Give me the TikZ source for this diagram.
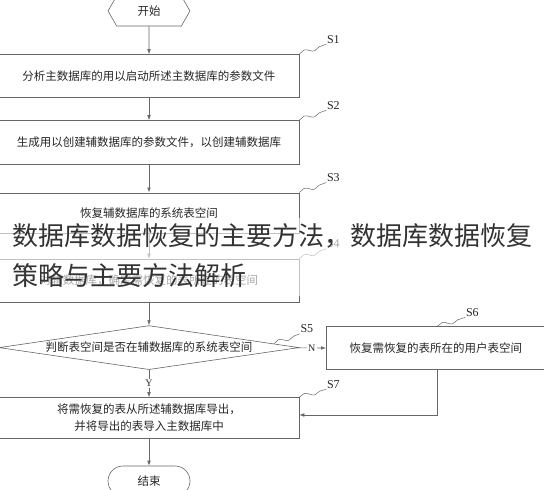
\documentclass[tikz,border=0pt]{standalone}
\usepackage{fontspec}
\setmainfont{Liberation Serif}
\newfontfamily\cjk{Noto Sans CJK SC}
\usetikzlibrary{arrows.meta,calc,shapes.geometric,shapes.symbols,decorations.pathmorphing}

\tikzset{box/.style={draw=black!60, line width=0.6pt, rectangle, minimum width=300pt, minimum height=43pt, inner sep=0pt, align=center, text=black!85, font=\cjk\fontsize{11.5}{17}\selectfont}}

\begin{document}
\begin{tikzpicture}[x=1pt,y=-1pt]
\tikzstyle{arr}=[draw=black!60, line width=0.6pt, -{Latex[length=5pt,width=3.6pt]}]
\tikzstyle{wave}=[draw=black!60, line width=0.5pt, decorate, decoration={snake, segment length=19pt, amplitude=2.2pt}]
\tikzstyle{slbl}=[anchor=south west, inner sep=0.5pt, text=black!85, font=\fontsize{12}{13}\selectfont]
\tikzstyle{yn}=[fill=white, inner sep=1.5pt, text=black!85, font=\fontsize{10}{12}\selectfont]
\tikzstyle{title}=[anchor=west, inner sep=0pt, text=black!80, font=\cjk\fontsize{26}{30}\selectfont]
\useasboundingbox (0,0) rectangle (544,490);
\node[box, signal, signal to=west and east, signal pointer angle=120, minimum width=82pt, minimum height=30pt] (start) at (149,11) {开始};
\node[box, minimum height=42.5pt] (s1) at (149,75.7) {分析主数据库的用以启动所述主数据库的参数文件};
\node[box, minimum height=44pt] (s2) at (149,142.5) {生成用以创建辅数据库的参数文件，以创建辅数据库};
\node[box, minimum height=40pt] (s3) at (149,212.8) {恢复辅数据库的系统表空间};
\node[box] (s4) at (149,280.5) {对辅数据库，确定需恢复的表所在的表空间};
\node[box, diamond, shape aspect=6.8, minimum width=300pt, minimum height=44pt] (s5) at (149,347.6) {判断表空间是否在辅数据库的系统表空间};
\node[box, anchor=west, minimum width=230pt] (s6) at (326,348.2) {恢复需恢复的表所在的用户表空间\hspace*{11pt}};
\node[box, minimum height=41pt] (s7) at (149,418) {将需恢复的表从所述辅数据库导出，\\并将导出的表导入主数据库中};
\node[box, rounded corners=15pt, minimum width=82pt, minimum height=30pt] (stop) at (149,481) {结束};

\draw[arr] (start) -- (s1);
\draw[arr] (s1) -- (s2);
\draw[arr] (s2) -- (s3);
\draw[arr] (s3) -- (s4);
\draw[arr] (s4) -- (s5);
\draw[arr] (s5) -- node[yn]{Y} (s7);
\draw[arr] (s5) -- node[yn]{N} (s6);
\draw[arr] ([xshift=-4pt]s6.south) |- ([yshift=3pt]s7.east);
\draw[arr] (s7) -- (stop);

\draw[wave] (s1.north east) -- ++(27,-10) node[slbl]{S1};
\draw[wave] (s2.north east) -- ++(27,-10) node[slbl]{S2};
\draw[wave] (s3.north east) -- ++(27,-10) node[slbl]{S3};
\draw[wave] (s4.north east) -- ++(27,-10) node[slbl]{S4};
\draw[wave] ($(s5.north)!0.83!(s5.east)$) -- ++(26,-10) node[slbl]{S5};
\draw[wave] ([xshift=-4pt]s6.north) -- ++(28,-9) node[slbl]{S6};
\draw[wave] (s7.north east) -- ++(27,-8) node[slbl]{S7};

\fill[white, opacity=0.6] (0,218) rectangle (544,296);
\node[title] (t1) at (12,235.6) {数据库数据恢复的主要方法，数据库数据恢复};
\node[title] (t2) at (12,275.5) {策略与主要方法解析};
\end{tikzpicture}
\end{document}
